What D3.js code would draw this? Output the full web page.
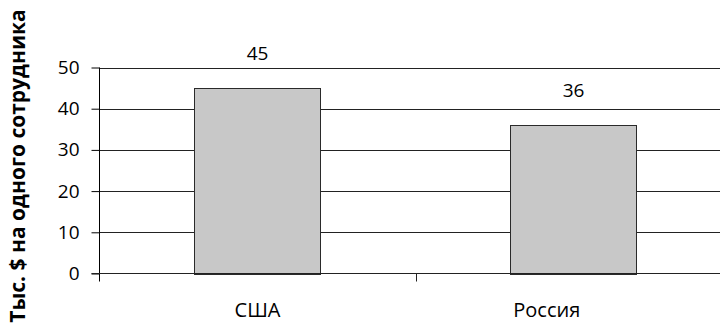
<!DOCTYPE html>
<html>
<head>
<meta charset="utf-8">
<script src="https://cdn.jsdelivr.net/npm/d3@7/dist/d3.min.js"></script>
<style>
  html, body { margin: 0; padding: 0; background: #fff; }
  svg { display: block; font-family: "Open Sans", "Noto Sans", sans-serif; }
</style>
</head>
<body>
<svg id="chart" width="720" height="326"></svg>
<script>
// Revenue per employee, thousands of USD
const categories = ["США", "Россия"];
const values = [45, 36];
const yTicks = [0, 10, 20, 30, 40, 50];
const yTitle = "Тыс. $ на одного сотрудника";

const svg = d3.select("#chart");
const plot = { left: 99.5, right: 731.5, top: 67.5, bottom: 273.5 };
// Category labels are centred within the visible part of each band
const visibleRight = 678;

const x = d3.scaleBand()
  .domain(categories)
  .range([plot.left, plot.right])
  .paddingInner(0.6)
  .paddingOuter(0.3);

const band = d3.scaleBand()
  .domain(categories)
  .range([plot.left, plot.right]);

const y = d3.scaleLinear()
  .domain([0, 50])
  .range([plot.bottom, plot.top]);

// Horizontal grid lines
svg.append("g")
  .selectAll("line")
  .data(yTicks.filter(d => d > 0))
  .join("line")
  .attr("x1", plot.left)
  .attr("x2", plot.right)
  .attr("y1", d => Math.round(y(d)) + 0.5)
  .attr("y2", d => Math.round(y(d)) + 0.5)
  .attr("stroke", "#222")
  .attr("stroke-width", 1);

// Bars
svg.append("g")
  .selectAll("rect")
  .data(categories)
  .join("rect")
  .attr("x", d => Math.round(x(d)) + 0.5)
  .attr("width", Math.round(x.bandwidth()))
  .attr("y", (d, i) => Math.round(y(values[i])) + 0.5)
  .attr("height", (d, i) => Math.round(y(0)) - Math.round(y(values[i])))
  .attr("fill", "#c8c8c8")
  .attr("stroke", "#2a2a2a")
  .attr("stroke-width", 1);

// Value labels
svg.append("g")
  .selectAll("text")
  .data(categories)
  .join("text")
  .attr("x", d => x(d) + x.bandwidth() / 2)
  .attr("y", (d, i) => y(values[i]) - 28)
  .attr("text-anchor", "middle")
  .attr("font-size", 19)
  .attr("fill", "#000")
  .text((d, i) => values[i]);

// Y axis
const yAxis = d3.axisLeft(y)
  .tickValues(yTicks)
  .tickSize(8)
  .tickPadding(12)
  .tickFormat(d3.format("d"));

const gy = svg.append("g")
  .attr("transform", `translate(${plot.left},0)`)
  .call(yAxis);
gy.select(".domain").attr("d", `M0,${plot.top}V${plot.bottom + 8}`).attr("stroke", "#000");
gy.selectAll(".tick line").attr("stroke", "#000");
gy.selectAll(".tick text").attr("font-size", 19).attr("fill", "#000")
  .attr("font-family", "\"Open Sans\", sans-serif");

// X axis
const gx = svg.append("g")
  .attr("transform", `translate(0,${plot.bottom})`);
gx.append("line")
  .attr("x1", plot.left - 8).attr("x2", plot.right)
  .attr("stroke", "#222");
gx.selectAll("line.sep")
  .data(categories.slice(1))
  .join("line")
  .attr("class", "sep")
  .attr("x1", d => Math.round(band(d)) + 0.5)
  .attr("x2", d => Math.round(band(d)) + 0.5)
  .attr("y1", 0).attr("y2", 8)
  .attr("stroke", "#222");
gx.selectAll("text")
  .data(categories)
  .join("text")
  .attr("x", d => (band(d) + Math.min(band(d) + band.bandwidth(), visibleRight)) / 2)
  .attr("y", 43)
  .attr("text-anchor", "middle")
  .attr("font-size", 20)
  .attr("fill", "#000")
  .text(d => d);

// Y axis title
svg.append("text")
  .attr("transform", `translate(25,${(10 + 322) / 2}) rotate(-90)`)
  .attr("text-anchor", "middle")
  .attr("font-size", 21)
  .attr("font-weight", "bold")
  .attr("fill", "#000")
  .text(yTitle);
</script>
</body>
</html>
